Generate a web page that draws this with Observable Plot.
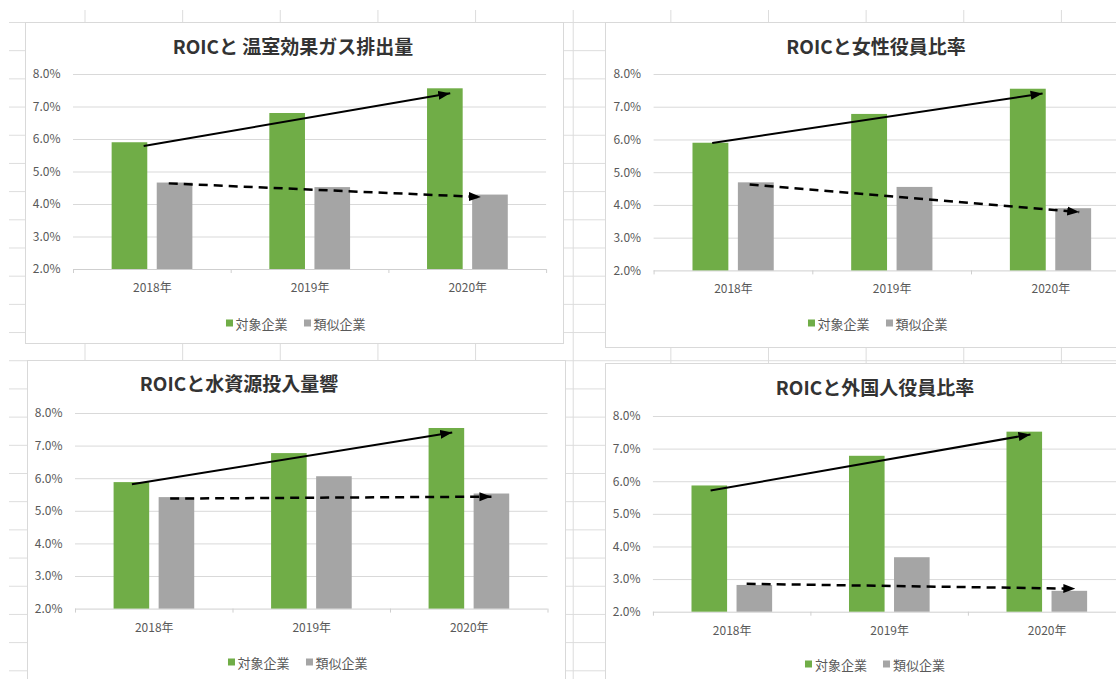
<!DOCTYPE html>
<html lang="ja">
<head>
<meta charset="utf-8">
<script src="https://cdn.jsdelivr.net/npm/d3@7"></script>
<script src="https://cdn.jsdelivr.net/npm/@observablehq/plot@0.6"></script>
<style>
  html, body { margin: 0; padding: 0; }
  body {
    width: 1116px; height: 679px; overflow: hidden; position: relative; background: #fff;
    font-family: "Noto Sans CJK JP", "Noto Sans", sans-serif;
  }
  /* worksheet cell grid behind the charts */
  #sheet {
    position: absolute; left: 9px; top: 10px; right: 0; bottom: 0;
    background-image:
      linear-gradient(to right, #dcdcdc 1px, transparent 1px),
      linear-gradient(to bottom, #dcdcdc 1px, transparent 1px);
    background-size: 97.65px 28.2px;
    background-position: 75.5px 12px;
  }
  .panel { position: absolute; box-sizing: border-box; background: #fff; border: 1px solid #d9d9d9; }
  .title {
    position: absolute; transform: translate(-50%, -50%); white-space: pre;
    font-size: 19px; font-weight: bold; color: #333; line-height: 1;
  }
  .legend {
    position: absolute; transform: translate(-50%, -50%); display: flex; align-items: center;
    font-size: 13px; color: #595959; line-height: 1; white-space: nowrap;
  }
  .legend .item { display: flex; align-items: center; }
  .legend .item + .item { margin-left: 16px; }
  .legend .swatch { width: 7px; height: 7px; margin-right: 3px; }
  .chart { position: absolute; }
</style>
</head>
<body>
<div id="sheet"></div>
<script>
const years = ["2018年", "2019年", "2020年"];
const seriesNames = ["対象企業", "類似企業"];
const seriesColors = ["#70ad47", "#a5a5a5"];
const yTicks = [2, 3, 4, 5, 6, 7, 8];

const titles = [
  "ROICと 温室効果ガス排出量",
  "ROICと女性役員比率",
  "ROICと水資源投入量響",
  "ROICと外国人役員比率"
];

// ROIC (%) per year
const ghgTarget = [5.90, 6.80, 7.56];
const ghgPeer = [4.66, 4.52, 4.29];
const womenTarget = [5.90, 6.78, 7.55];
const womenPeer = [4.69, 4.55, 3.90];
const waterTarget = [5.88, 6.77, 7.54];
const waterPeer = [5.42, 6.06, 5.53];
const foreignTarget = [5.87, 6.78, 7.52];
const foreignPeer = [2.82, 3.67, 2.64];

// trend arrows: ROIC (%) at the tail and at the head
const ghgTargetTrend = [5.80, 7.42];
const ghgPeerTrend = [4.65, 4.23];
const womenTargetTrend = [5.91, 7.42];
const womenPeerTrend = [4.64, 3.80];
const waterTargetTrend = [5.83, 7.42];
const waterPeerTrend = [5.39, 5.45];
const foreignTargetTrend = [5.73, 7.45];
const foreignPeerTrend = [2.87, 2.72];

// bar extent inside each year band, as a fraction of the band
const barSpan = [[0.245, 0.471], [0.531, 0.757]];

// page layout of the four chart objects
const layout = [
  { box: [25, 22, 539, 322], plot: { left: 73, top: 74.3, bottom: 269.3, band: 157.7 },
    title: [293, 45], legend: [295.5, 323], arrowX: [[0.445, 2.389], [0.604, 2.583]] },
  { box: [605, 22, 560, 326], plot: { left: 653.6, top: 74.3, bottom: 270.7, band: 158.7 },
    title: [876, 45], legend: [877.5, 323.3], arrowX: [[0.366, 2.448], [0.602, 2.679]] },
  { box: [27, 360, 539, 400], plot: { left: 75, top: 412.7, bottom: 608.3, band: 157.5 },
    title: [239, 382], legend: [297.5, 661.7], arrowX: [[0.358, 2.392], [0.601, 2.641]] },
  { box: [605, 363, 560, 400], plot: { left: 652.9, top: 416, bottom: 611.7, band: 157.5 },
    title: [875, 386], legend: [875, 664], arrowX: [[0.363, 2.394], [0.592, 2.679]] }
];

const panels = [
  { title: titles[0], target: ghgTarget, peer: ghgPeer, trends: [ghgTargetTrend, ghgPeerTrend] },
  { title: titles[1], target: womenTarget, peer: womenPeer, trends: [womenTargetTrend, womenPeerTrend] },
  { title: titles[2], target: waterTarget, peer: waterPeer, trends: [waterTargetTrend, waterPeerTrend] },
  { title: titles[3], target: foreignTarget, peer: foreignPeer, trends: [foreignTargetTrend, foreignPeerTrend] }
];

function place(el, left, top, width, height) {
  el.style.left = left + "px";
  el.style.top = top + "px";
  if (width != null) el.style.width = width + "px";
  if (height != null) el.style.height = height + "px";
  document.body.appendChild(el);
  return el;
}

panels.forEach((p, idx) => {
  const L = layout[idx];
  const [bx, by, bw, bh] = L.box;

  const frame = document.createElement("div");
  frame.className = "panel";
  place(frame, bx, by, bw, bh);

  const padTop = 14, padBottom = 32;
  const svgLeft = bx + 1;
  const svgTop = L.plot.top - padTop;
  const width = bw - 2;
  const height = (L.plot.bottom - L.plot.top) + padTop + padBottom;
  const marginLeft = L.plot.left - svgLeft;
  const marginRight = width - marginLeft - 3 * L.plot.band;

  const rows = years.flatMap((year, i) => [
    { i, s: 0, v: p.target[i] },
    { i, s: 1, v: p.peer[i] }
  ]);
  const arrows = [0, 1].map(s => ({
    s, x1: L.arrowX[s][0], x2: L.arrowX[s][1], y1: p.trends[s][0], y2: p.trends[s][1]
  }));

  const chart = Plot.plot({
    width, height, marginLeft, marginRight, marginTop: padTop, marginBottom: padBottom,
    x: { domain: [0, 3] },
    y: { domain: [2, 8] },
    style: { color: "#595959", fontSize: "12px", fontFamily: "'Noto Sans CJK JP', 'Noto Sans', sans-serif", background: "transparent", overflow: "visible" },
    marks: [
      Plot.gridY(yTicks.slice(1), { stroke: "#d9d9d9", strokeOpacity: 1 }),
      Plot.ruleY([2], { stroke: "#cfcfcf" }),
      Plot.axisX([0, 1, 2, 3], { tickSize: 4, tickFormat: () => "", stroke: "#cfcfcf", strokeOpacity: 1 }),
      Plot.axisX([0.5, 1.5, 2.5], { tickSize: 0, tickPadding: 14, tickFormat: d => years[Math.floor(d)] }),
      Plot.axisY(yTicks, { tickSize: 0, tickPadding: 13, tickFormat: d => d.toFixed(1) + "%" }),
      Plot.rect(rows, {
        x1: d => d.i + barSpan[d.s][0],
        x2: d => d.i + barSpan[d.s][1],
        y1: 2, y2: "v",
        fill: d => seriesColors[d.s]
      }),
      Plot.link(arrows.filter(a => a.s === 0), {
        x1: "x1", y1: "y1", x2: "x2", y2: "y2", stroke: "#000", strokeWidth: 2
      }),
      Plot.link(arrows.filter(a => a.s === 1), {
        x1: "x1", y1: "y1", x2: "x2", y2: "y2", stroke: "#000", strokeWidth: 2.5, strokeDasharray: "9,6"
      })
    ]
  });

  // filled triangular arrowheads on the trend lines
  const svg = d3.select(chart);
  const id = "arrowhead-" + idx;
  svg.append("defs").append("marker")
    .attr("id", id)
    .attr("viewBox", "0 0 12 10")
    .attr("refX", 12).attr("refY", 5)
    .attr("markerWidth", 12).attr("markerHeight", 10)
    .attr("markerUnits", "userSpaceOnUse")
    .attr("orient", "auto")
    .append("path")
    .attr("d", "M0,0.5L12,5L0,9.5Z")
    .attr("fill", "#000");
  svg.selectAll('g[aria-label="link"] path').attr("marker-end", `url(#${id})`);

  chart.classList.add("chart");
  place(chart, svgLeft, svgTop);

  const title = document.createElement("div");
  title.className = "title";
  title.textContent = p.title;
  place(title, L.title[0], L.title[1]);

  const legend = document.createElement("div");
  legend.className = "legend";
  seriesNames.forEach((name, s) => {
    const item = document.createElement("span");
    item.className = "item";
    const sw = document.createElement("span");
    sw.className = "swatch";
    sw.style.background = seriesColors[s];
    item.appendChild(sw);
    item.appendChild(document.createTextNode(name));
    legend.appendChild(item);
  });
  place(legend, L.legend[0], L.legend[1]);
});
</script>
</body>
</html>
